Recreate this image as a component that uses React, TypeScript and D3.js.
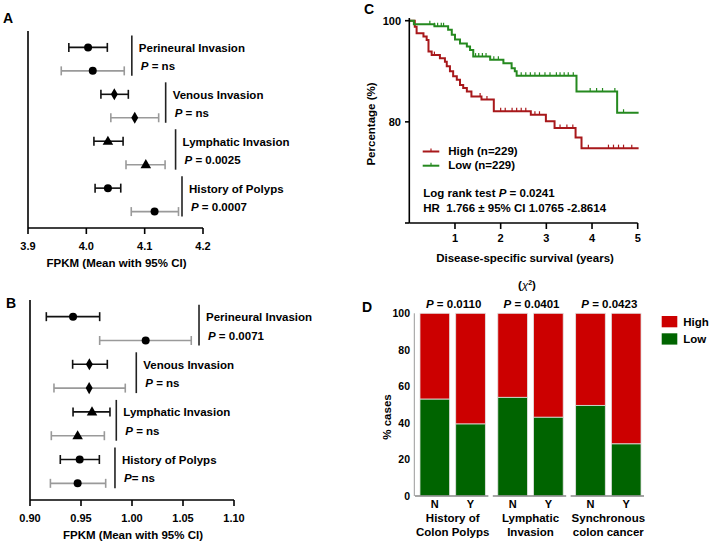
import React from "react";
import * as d3 from "d3";

const FONT = '"Liberation Sans", Arial, Helvetica, sans-serif';

// ---------- Panel A / B data ----------
const forestGroups = ["Perineural Invasion", "Venous Invasion", "Lymphatic Invasion", "History of Polyps"];
const forestShapes = ["circle", "diamond", "triangle", "circle"];

const aTicks = [3.9, 4.0, 4.1, 4.2];
const aBlackMean = [4.003, 4.048, 4.037, 4.037];
const aBlackLo = [3.970, 4.025, 4.013, 4.015];
const aBlackHi = [4.036, 4.072, 4.063, 4.059];
const aGrayMean = [4.011, 4.083, 4.102, 4.117];
const aGrayLo = [3.957, 4.042, 4.068, 4.077];
const aGrayHi = [4.065, 4.124, 4.135, 4.158];
const aBracket = [4.078, 4.136, 4.153, 4.164];
const aP = ["P = ns", "P = ns", "P = 0.0025", "P = 0.0007"];

const bTicks = [0.9, 0.95, 1.0, 1.05, 1.1];
const bBlackMean = [0.9422, 0.9582, 0.9608, 0.9487];
const bBlackLo = [0.916, 0.9418, 0.9422, 0.9297];
const bBlackHi = [0.9683, 0.9758, 0.9784, 0.968];
const bGrayMean = [1.0134, 0.958, 0.9467, 0.9467];
const bGrayLo = [0.9683, 0.9235, 0.9209, 0.92];
const bGrayHi = [1.0581, 0.9934, 0.9729, 0.9742];
const bBracket = [1.0657, 1.0042, 0.9846, 0.9833];
const bP = ["P = 0.0071", "P = ns", "P = ns", "P= ns"];

// ---------- Panel C data ----------
const highTimes = [0, 0.12, 0.16, 0.31, 0.38, 0.42, 0.49, 0.67, 0.78, 0.82, 0.89, 0.96, 1.04, 1.11, 1.18, 1.26, 1.36, 1.58, 1.85, 2.66, 2.99, 3.18, 3.64, 3.77];
const highSurv = [100, 98.8, 97.5, 96.9, 96.2, 93.9, 93.2, 92.6, 91.9, 91.0, 90.0, 89.0, 88.3, 87.3, 86.7, 86.0, 85.0, 84.4, 82.1, 81.4, 80.1, 78.8, 76.9, 74.8];
const lowTimes = [0, 0.1, 0.55, 0.85, 0.93, 1.0, 1.11, 1.26, 1.33, 1.4, 1.77, 2.06, 2.24, 2.31, 2.35, 3.66, 4.55];
const lowSurv = [100, 99.3, 98.9, 98.2, 97.2, 96.3, 95.5, 94.9, 94.2, 92.9, 92.3, 91.6, 90.6, 90.0, 89.1, 86.0, 81.8];
const kmEnd = 5.02;
const lowCensor = [0.45, 0.55, 0.62, 0.7, 0.75, 1.45, 1.52, 1.6, 1.68, 1.85, 1.95, 2.45, 2.55, 2.65, 2.75, 2.85, 2.97, 3.08, 3.22, 3.3, 3.39, 3.48, 3.59, 3.96, 4.1, 4.23, 4.5, 4.69];
const highCensor = [0.55, 1.55, 1.7, 2.0, 2.1, 2.25, 2.35, 2.45, 2.55, 2.75, 2.85, 3.3, 3.45, 3.58, 3.92, 4.36, 4.47, 4.58, 4.69, 4.87];
const kmXTicks = [1, 2, 3, 4, 5];
const kmYTicks = [100, 80];
const kmLegend = ["High (n=229)", "Low (n=229)"];

// ---------- Panel D data ----------
const dGroups = ["History of Colon Polyps", "Lymphatic Invasion", "Synchronous colon cancer"];
const dGroupLine1 = ["History of", "Lymphatic", "Synchronous"];
const dGroupLine2 = ["Colon Polyps", "Invasion", "colon cancer"];
const dSub = ["N", "Y"];
const dLowPct = [[53.0, 39.4], [54.0, 43.1], [49.6, 28.5]];
const dP = ["P = 0.0110", "P = 0.0401", "P = 0.0423"];
const dTicks = [0, 20, 40, 60, 80, 100];
const dLegend = ["High", "Low"];

const KM_RED = "#a8181b";
const KM_GREEN = "#25891f";
const D_RED = "#cc0000";
const D_GREEN = "#006400";

function PText({ x, y, s, anchor = "start", size = 11.5 }: any) {
  const first = s.charAt(0);
  const rest = s.slice(1);
  return (
    <text x={x} y={y} dy="0.35em" fontSize={size} fontWeight="bold" textAnchor={anchor} style={{ whiteSpace: "pre" }}>
      <tspan fontStyle="italic">{first}</tspan>
      {rest}
    </text>
  );
}

function Marker({ shape, x, y }: any) {
  if (shape === "circle") return <circle cx={x} cy={y} r={4} fill="#000" />;
  if (shape === "diamond") {
    const p = d3.symbol().type(d3.symbolDiamond).size(42)();
    return <path d={p as string} transform={`translate(${x},${y})`} fill="#000" />;
  }
  const p = d3.symbol().type(d3.symbolTriangle).size(48)();
  return <path d={p as string} transform={`translate(${x},${y + 0.5})`} fill="#000" />;
}

function Forest(props: any) {
  const { x0, x1, top, bottom, domain, ticks, fmt, bm, bl, bh, gm, gl, gh, br, ps } = props;
  const x = d3.scaleLinear().domain(domain).range([x0, x1]);
  const y = d3.scalePoint<number>().domain(d3.range(8)).range([top, bottom]).padding(0.7);
  const rows: any[] = [];
  forestGroups.forEach((g, i) => {
    rows.push({ row: 2 * i, m: bm[i], lo: bl[i], hi: bh[i], col: "#111", shape: forestShapes[i] });
    rows.push({ row: 2 * i + 1, m: gm[i], lo: gl[i], hi: gh[i], col: "#9a9a9a", shape: forestShapes[i] });
  });
  return (
    <g>
      <line x1={x0} x2={x0} y1={top} y2={bottom} stroke="#000" strokeWidth={1.6} />
      <line x1={x0} x2={x1} y1={bottom} y2={bottom} stroke="#000" strokeWidth={1.6} />
      {ticks.map((t: number) => (
        <g key={t}>
          <line x1={x(t)} x2={x(t)} y1={bottom} y2={bottom + 6} stroke="#000" strokeWidth={1.6} />
          <text x={x(t)} y={bottom + 18} dy="0.35em" textAnchor="middle" fontSize={11} fontWeight="bold">{fmt(t)}</text>
        </g>
      ))}
      <text x={(x0 + x1) / 2 + 1} y={bottom + 35} dy="0.35em" textAnchor="middle" fontSize={11.5} fontWeight="bold">FPKM (Mean with 95% CI)</text>
      {rows.map((r) => {
        const yy = y(r.row) as number;
        return (
          <g key={r.row}>
            <line x1={x(r.lo)} x2={x(r.hi)} y1={yy} y2={yy} stroke={r.col} strokeWidth={1.6} />
            <line x1={x(r.lo)} x2={x(r.lo)} y1={yy - 4.5} y2={yy + 4.5} stroke={r.col} strokeWidth={1.6} />
            <line x1={x(r.hi)} x2={x(r.hi)} y1={yy - 4.5} y2={yy + 4.5} stroke={r.col} strokeWidth={1.6} />
            <Marker shape={r.shape} x={x(r.m)} y={yy} />
          </g>
        );
      })}
      {forestGroups.map((g, i) => {
        const y0 = y(2 * i) as number;
        const y1 = y(2 * i + 1) as number;
        const bx = x(br[i]);
        return (
          <g key={g}>
            <line x1={bx} x2={bx} y1={y0 - 12} y2={y1 + 5} stroke="#222" strokeWidth={1.6} />
            <text x={bx + 7} y={y0 + 0.5} dy="0.35em" fontSize={11.5} fontWeight="bold">{g}</text>
            <PText x={bx + 9} y={y1 - 5} s={ps[i]} />
          </g>
        );
      })}
    </g>
  );
}

function survAt(times: number[], surv: number[], t: number) {
  let s = surv[0];
  for (let i = 0; i < times.length; i++) if (times[i] <= t) s = surv[i];
  return s;
}

function KM() {
  const x = d3.scaleLinear().domain([0, 5]).range([409.3, 637.7]);
  const y = d3.scaleLinear().domain([60, 100]).range([223, 20.7]);
  const line = d3.line<[number, number]>().x((d) => x(d[0])).y((d) => y(d[1])).curve(d3.curveStepAfter);
  const mk = (T: number[], S: number[]) => {
    const pts: [number, number][] = T.map((t, i) => [t, S[i]]);
    pts.push([kmEnd, S[S.length - 1]]);
    return line(pts) as string;
  };
  const series = [
    { T: highTimes, S: highSurv, C: highCensor, col: KM_RED },
    { T: lowTimes, S: lowSurv, C: lowCensor, col: KM_GREEN },
  ];
  return (
    <g>
      <text x={369} y={9} dy="0.35em" textAnchor="middle" fontSize={14} fontWeight="bold">C</text>
      {series.map((s, i) => (
        <g key={i}>
          <path d={mk(s.T, s.S)} fill="none" stroke={s.col} strokeWidth={2} />
          {s.C.map((c, j) => {
            const yy = y(survAt(s.T, s.S, c));
            return <line key={j} x1={x(c)} x2={x(c)} y1={yy} y2={yy - 3.5} stroke={s.col} strokeWidth={1.2} />;
          })}
        </g>
      ))}
      <line x1={409.3} x2={409.3} y1={18} y2={223} stroke="#000" strokeWidth={1.6} />
      <line x1={409.3} x2={637.7} y1={223} y2={223} stroke="#000" strokeWidth={1.6} />
      {[...kmYTicks, 60].map((t) => (
        <line key={t} x1={405} x2={409.3} y1={y(t)} y2={y(t)} stroke="#000" strokeWidth={1.6} />
      ))}
      {kmYTicks.map((t) => (
        <text key={t} x={401} y={y(t)} dy="0.35em" textAnchor="end" fontSize={11} fontWeight="bold">{t}</text>
      ))}
      {kmXTicks.map((t) => (
        <g key={t}>
          <line x1={x(t)} x2={x(t)} y1={223} y2={229} stroke="#000" strokeWidth={1.6} />
          <text x={x(t)} y={238.5} dy="0.35em" textAnchor="middle" fontSize={11} fontWeight="bold">{t}</text>
        </g>
      ))}
      <text transform="translate(371,124) rotate(-90)" dy="0.35em" textAnchor="middle" fontSize={11.5} fontWeight="bold">Percentage (%)</text>
      <text x={525} y={257.5} dy="0.35em" textAnchor="middle" fontSize={11.5} fontWeight="bold">Disease-specific survival (years)</text>
      {kmLegend.map((l, i) => {
        const ly = 151.5 + i * 14.2;
        const col = i === 0 ? KM_RED : KM_GREEN;
        return (
          <g key={l}>
            <line x1={422.7} x2={439.3} y1={ly} y2={ly} stroke={col} strokeWidth={2} />
            <line x1={431} x2={431} y1={ly} y2={ly - 3} stroke={col} strokeWidth={1.2} />
            <text x={448.3} y={ly - 0.5} dy="0.35em" fontSize={11.5} fontWeight="bold">{l}</text>
          </g>
        );
      })}
      <text x={423.3} y={192.7} dy="0.35em" fontSize={11.5} fontWeight="bold" style={{ whiteSpace: "pre" }}>
        {"Log rank test "}
        <tspan fontStyle="italic">P</tspan>
        {" = 0.0241"}
      </text>
      <text x={423.3} y={207.5} dy="0.35em" fontSize={11.5} fontWeight="bold" style={{ whiteSpace: "pre" }}>
        {"HR  1.766 \u00b1 95% CI 1.0765 -2.8614"}
      </text>
    </g>
  );
}

function Bars() {
  const y = d3.scaleLinear().domain([0, 100]).range([496, 313.3]);
  const gx = d3.scaleBand<string>().domain(dGroups).range([414.3, 646.7]).paddingInner(0.16).paddingOuter(0.073);
  const sx = d3.scaleBand<string>().domain(dSub).range([0, gx.bandwidth()]).paddingInner(0.17);
  return (
    <g>
      <text x={367} y={307} dy="0.35em" textAnchor="middle" fontSize={14} fontWeight="bold">D</text>
      <text x={527} y={285} dy="0.35em" textAnchor="middle" fontSize={11.5} fontWeight="bold">
        {"("}
        <tspan fontStyle="italic" fontWeight="normal">{"\u03c7"}</tspan>
        <tspan dy={-4} fontSize={7}>2</tspan>
        <tspan dy={4}>{")"}</tspan>
      </text>
      <line x1={414.3} x2={414.3} y1={y(100)} y2={y(0)} stroke="#999" strokeWidth={1} />
      {dTicks.map((t) => (
        <text key={t} x={410} y={y(t)} dy="0.35em" textAnchor="end" fontSize={10.5} fontWeight="bold">{t}</text>
      ))}
      <text transform="translate(386.5,417) rotate(-90)" dy="0.35em" textAnchor="middle" fontSize={11.5} fontWeight="bold">% cases</text>
      {dGroups.map((g, gi) => {
        const gx0 = gx(g) as number;
        const bw = gx.bandwidth();
        const cx = gx0 + bw / 2;
        return (
          <g key={g}>
            {dSub.map((s, si) => {
              const bx = gx0 + (sx(s) as number);
              const low = dLowPct[gi][si];
              return (
                <g key={s}>
                  <rect x={bx} y={y(100)} width={sx.bandwidth()} height={y(low) - y(100)} fill={D_RED} stroke="#e3e3e3" strokeWidth={0.8} />
                  <rect x={bx} y={y(low)} width={sx.bandwidth()} height={y(0) - y(low)} fill={D_GREEN} stroke="#e3e3e3" strokeWidth={0.8} />
                  <text x={bx + sx.bandwidth() / 2} y={504} dy="0.35em" textAnchor="middle" fontSize={11} fontWeight="bold">{s}</text>
                </g>
              );
            })}
            <line x1={Math.max(414.3, gx0 - 5)} x2={gx0 + bw + 3} y1={496} y2={496} stroke="#888" strokeWidth={1.3} />
            <text x={cx} y={517.7} dy="0.35em" textAnchor="middle" fontSize={11.5} fontWeight="bold">{dGroupLine1[gi]}</text>
            <text x={cx} y={531.7} dy="0.35em" textAnchor="middle" fontSize={11.5} fontWeight="bold">{dGroupLine2[gi]}</text>
            <PText x={cx + 1} y={303.5} s={dP[gi]} anchor="middle" />
          </g>
        );
      })}
      {dLegend.map((l, i) => (
        <g key={l}>
          <rect x={661.7} y={316 + i * 17.3} width={15.6} height={11.3} fill={i === 0 ? D_RED : D_GREEN} />
          <text x={683.3} y={321.5 + i * 17} dy="0.35em" fontSize={11.5} fontWeight="bold">{l}</text>
        </g>
      ))}
    </g>
  );
}

export default function App() {
  return (
    <div style={{ position: "absolute", left: 0, top: 0 }}>
      <svg width={709} height={543} viewBox="0 0 709 543" style={{ display: "block", fontFamily: FONT, background: "#fff" }} fill="#000">
        <rect x={0} y={0} width={709} height={543} fill="#fff" />
        <text x={8} y={18} dy="0.35em" textAnchor="middle" fontSize={14} fontWeight="bold">A</text>
        <Forest x0={28} x1={203} top={31} bottom={228} domain={[3.9, 4.2]} ticks={aTicks} fmt={d3.format(".1f")}
          bm={aBlackMean} bl={aBlackLo} bh={aBlackHi} gm={aGrayMean} gl={aGrayLo} gh={aGrayHi} br={aBracket} ps={aP} />
        <text x={11} y={303} dy="0.35em" textAnchor="middle" fontSize={14} fontWeight="bold">B</text>
        <Forest x0={30} x1={234} top={300} bottom={500} domain={[0.9, 1.1]} ticks={bTicks} fmt={d3.format(".2f")}
          bm={bBlackMean} bl={bBlackLo} bh={bBlackHi} gm={bGrayMean} gl={bGrayLo} gh={bGrayHi} br={bBracket} ps={bP} />
        <KM />
        <Bars />
      </svg>
    </div>
  );
}
